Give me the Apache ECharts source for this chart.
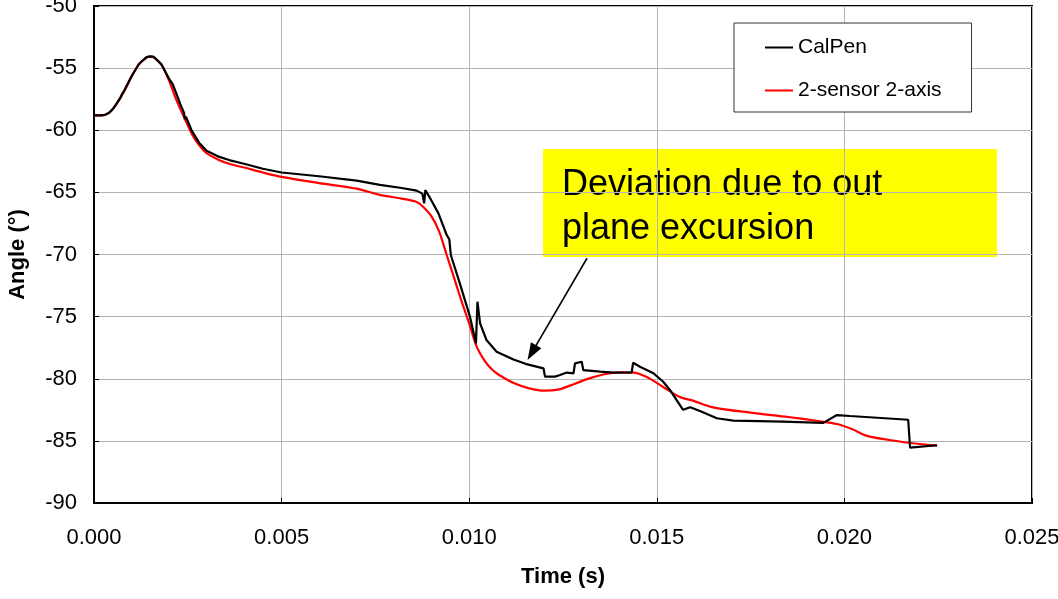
<!DOCTYPE html>
<html>
<head>
<meta charset="utf-8">
<script src="https://cdn.jsdelivr.net/npm/echarts@6/dist/echarts.min.js"></script>
<style>
  html, body { margin: 0; padding: 0; background: #fff; }
  #chart { width: 1058px; height: 599px; }
</style>
</head>
<body>
<div id="chart"></div>
<script>
// Time (s) and angle (deg) samples for the CalPen reference measurement
const calPenTime = [
  0, 0.0002, 0.0003, 0.0004, 0.0005, 0.0006, 0.0007, 0.00075, 0.00078, 0.0008,
  0.001, 0.0012, 0.0014, 0.0015, 0.0016, 0.0018, 0.002, 0.0021, 0.0022, 0.0023,
  0.0024, 0.00242, 0.00245, 0.0026, 0.0028, 0.003, 0.0033, 0.0036, 0.004, 0.0045,
  0.005, 0.006, 0.007, 0.00762, 0.0082, 0.0086, 0.00875, 0.0088, 0.00883, 0.00896,
  0.00918, 0.0094, 0.00947, 0.00951, 0.00975, 0.01002, 0.01018, 0.01022, 0.01029, 0.01046,
  0.01073, 0.01118, 0.0115, 0.01198, 0.01202, 0.01229, 0.01242, 0.0126, 0.01278, 0.01282,
  0.013, 0.01304, 0.01349, 0.01384, 0.01433, 0.01437, 0.01455, 0.01491, 0.01517, 0.01535,
  0.0157, 0.01589, 0.01615, 0.0166, 0.01704, 0.01837, 0.01944, 0.0198, 0.02015, 0.0217,
  0.02175, 0.02247
];
const calPenAngle = [
  -58.8, -58.8, -58.75, -58.6, -58.3, -57.85, -57.4, -57.05, -57.1, -56.85,
  -55.65, -54.65, -54.12, -54.05, -54.1, -54.7, -55.85, -56.3, -57.1, -57.9,
  -58.6, -59.1, -58.9, -60.0, -61.0, -61.65, -62.1, -62.4, -62.7, -63.1,
  -63.4, -63.7, -64.05, -64.4, -64.65, -64.86, -65.1, -65.88, -64.81, -65.48,
  -66.69, -68.43, -68.78, -70.04, -72.32, -75.0, -77.15, -73.8, -75.54, -76.88,
  -77.82, -78.45, -78.8, -79.16, -79.83, -79.83, -79.7, -79.5, -79.56, -78.76,
  -78.63, -79.3, -79.43, -79.51, -79.48, -78.71, -79.03, -79.56, -80.24, -80.9,
  -82.5, -82.3, -82.6, -83.18, -83.37, -83.45, -83.55, -82.92, -83.0, -83.3,
  -85.55, -85.35
];

// Time (s) and angle (deg) samples for the 2-sensor 2-axis estimate
const twoSensorTime = [
  0, 0.0002, 0.0003, 0.0004, 0.0005, 0.0006, 0.0008, 0.001, 0.0012, 0.0014,
  0.0015, 0.0016, 0.0018, 0.002, 0.0022, 0.0024, 0.0026, 0.0028, 0.003, 0.0033,
  0.0036, 0.004, 0.0045, 0.005, 0.006, 0.007, 0.00762, 0.0082, 0.0086, 0.00877,
  0.009, 0.0092, 0.0094, 0.0096, 0.0098, 0.01, 0.0102, 0.0104, 0.0106, 0.0108,
  0.0112, 0.0116, 0.012, 0.0124, 0.0128, 0.0132, 0.0136, 0.014, 0.0144, 0.0148,
  0.0152, 0.0156, 0.016, 0.0165, 0.0175, 0.0185, 0.0193, 0.0198, 0.0202, 0.0206,
  0.0212, 0.0217, 0.02247
];
const twoSensorAngle = [
  -58.8, -58.8, -58.75, -58.6, -58.3, -57.9, -56.9, -55.7, -54.7, -54.15,
  -54.08, -54.15, -54.75, -56.0, -57.6, -58.95, -60.25, -61.2, -61.85, -62.35,
  -62.7, -63.0, -63.4, -63.75, -64.25, -64.7, -65.2, -65.5, -65.77, -66.15,
  -66.95, -68.16, -70.04, -71.9, -73.8, -75.54, -77.42, -78.5, -79.24, -79.7,
  -80.37, -80.77, -80.96, -80.85, -80.42, -79.97, -79.64, -79.48, -79.5, -79.97,
  -80.72, -81.44, -81.8, -82.3, -82.73, -83.08, -83.4, -83.64, -84.05, -84.6,
  -84.93, -85.15, -85.38
];

// Axis ticks
const xTicks = [0, 0.005, 0.01, 0.015, 0.02, 0.025];
const yTicks = [-90, -85, -80, -75, -70, -65, -60, -55, -50];

const seriesNames = ['CalPen', '2-sensor 2-axis'];
const noteText = 'Deviation due to out\nplane excursion';
// Arrow from the note down to the CalPen curve (data coordinates)
const arrowFrom = [0.01314, -70.3];
const arrowTo = [0.01167, -77.9];

const FONT = '"Liberation Sans", Arial, Helvetica, sans-serif';
const pair = (xs, ys) => xs.map((x, i) => [x, ys[i]]);

const chart = echarts.init(document.getElementById('chart'), null, { renderer: 'canvas' });

chart.setOption({
  animation: false,
  backgroundColor: '#ffffff',
  textStyle: { fontFamily: FONT },
  grid: {
    left: 94, top: 6, right: 26, bottom: 96,
    containLabel: false,
    outerBoundsMode: 'none',
    show: true, borderColor: '#000', borderWidth: 2, backgroundColor: 'transparent'
  },
  legend: {
    orient: 'vertical',
    left: 734, top: 23,
    padding: [14, 30, 11, 31],
    itemGap: 22,
    itemWidth: 28, itemHeight: 2,
    backgroundColor: '#fff',
    borderColor: '#333', borderWidth: 1, borderRadius: 0,
    icon: 'rect',
    textStyle: { fontFamily: FONT, fontSize: 21, color: '#000' },
    data: seriesNames
  },
  xAxis: {
    type: 'value',
    min: xTicks[0], max: xTicks[xTicks.length - 1], interval: 0.005,
    name: 'Time (s)', nameLocation: 'middle', nameGap: 63,
    nameTextStyle: { fontFamily: FONT, fontSize: 22, fontWeight: 'bold', color: '#000' },
    axisLine: { show: true, onZero: false, lineStyle: { color: '#000', width: 2 } },
    axisTick: { show: true, inside: true, length: 5, lineStyle: { color: '#000' } },
    axisLabel: {
      fontFamily: FONT, fontSize: 22, color: '#000', margin: 24,
      formatter: v => v.toFixed(3)
    },
    splitLine: { show: true, lineStyle: { color: '#b4b4b4', width: 1 } }
  },
  yAxis: {
    type: 'value',
    min: yTicks[0], max: yTicks[yTicks.length - 1], interval: 5,
    name: 'Angle (°)', nameLocation: 'middle', nameGap: 65, nameRotate: 90,
    nameTextStyle: { fontFamily: FONT, fontSize: 22, fontWeight: 'bold', color: '#000' },
    axisLine: { show: true, onZero: false, lineStyle: { color: '#000', width: 2 } },
    axisTick: { show: true, inside: true, length: 5, lineStyle: { color: '#000' } },
    axisLabel: { fontFamily: FONT, fontSize: 22, color: '#000', margin: 17 },
    splitLine: { show: true, lineStyle: { color: '#b4b4b4', width: 1 } }
  },
  series: [
    {
      name: seriesNames[0],
      type: 'line',
      data: pair(calPenTime, calPenAngle),
      showSymbol: false, symbol: 'none',
      lineStyle: { color: '#000', width: 2.2 },
      itemStyle: { color: '#000' },
      z: 3,
      markLine: {
        silent: true,
        symbol: ['none', 'triangle'],
        symbolSize: [12, 17],
        label: { show: false },
        lineStyle: { color: '#000', width: 1.6, type: 'solid' },
        itemStyle: { color: '#000' },
        data: [[{ coord: arrowFrom }, { coord: arrowTo }]]
      }
    },
    {
      name: seriesNames[1],
      type: 'line',
      data: pair(twoSensorTime, twoSensorAngle),
      showSymbol: false, symbol: 'none',
      smooth: 0.3,
      lineStyle: { color: '#ff0000', width: 2.2 },
      itemStyle: { color: '#ff0000' },
      z: 2
    }
  ],
  graphic: [
    {
      type: 'group',
      left: 543, top: 149,
      z: 10,
      children: [
        {
          type: 'rect',
          shape: { x: 0, y: 0, width: 454, height: 108 },
          style: { fill: '#ffff00' }
        },
        {
          type: 'text',
          x: 19, y: 14,
          style: {
            text: noteText,
            fontFamily: FONT, fontSize: 36, lineHeight: 44,
            fill: '#000'
          }
        }
      ]
    }
  ]
});
</script>
</body>
</html>
